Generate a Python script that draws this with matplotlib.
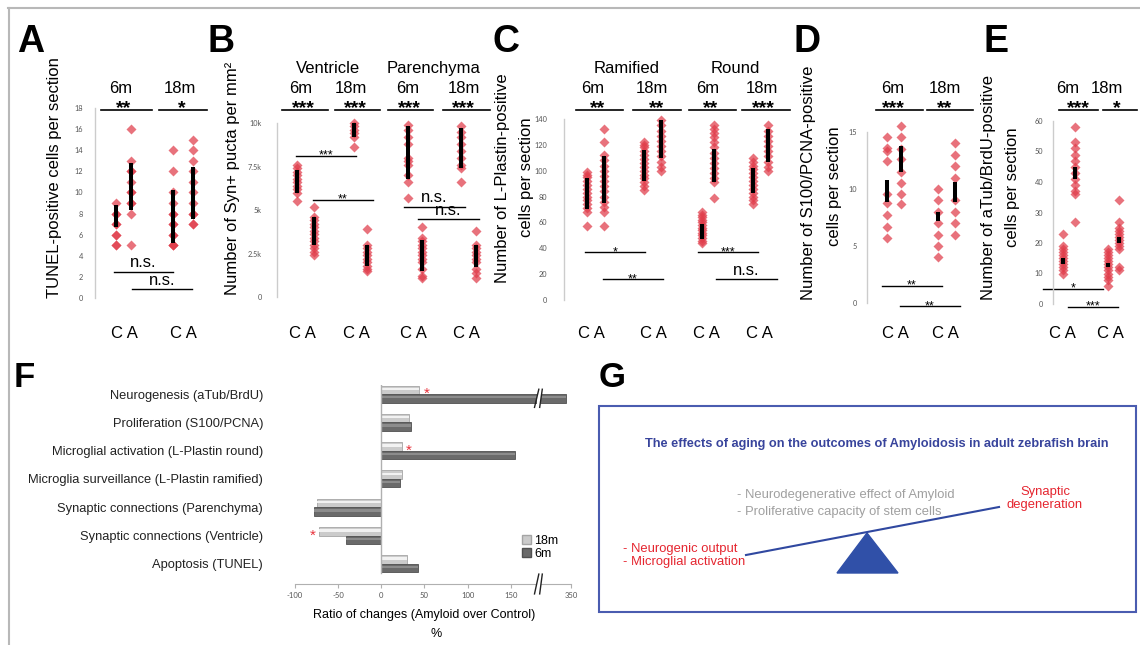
import numpy as np
import matplotlib
matplotlib.use("Agg")
import matplotlib.pyplot as plt
from matplotlib.patches import Rectangle, Polygon, Patch

plt.rcParams['font.family'] = ['Liberation Sans', 'DejaVu Sans']

W, H = 1140, 645
RED = '#e03c4a'

# ---------------- data ----------------
# A - TUNEL-positive cells per section
tunel_6m_C = [9, 8, 8, 7, 7, 6, 6, 5, 5]
tunel_6m_A = [16, 13, 12, 12, 11, 10, 10, 9, 9, 8, 5]
tunel_18m_C = [14, 12, 10, 9, 8, 8, 7, 7, 6, 6, 5, 5, 5]
tunel_18m_A = [15, 14, 13, 12, 11, 10, 9, 8, 8, 7, 7]
tunel_bars = [(6.7, 8.8), (8.3, 12.8), (5.2, 10.2), (7.5, 12.4)]

# B - Syn+ puncta per mm2 (ventricle 6m C/A, 18m C/A, parenchyma 6m C/A, 18m C/A)
syn_v6_C = [7600, 7400, 7200, 7000, 6800, 6600, 6400, 6200, 6000, 5500]
syn_v6_A = [5200, 4600, 4400, 4200, 4000, 3800, 3600, 3400, 3200, 3000, 2800, 2600, 2400]
syn_v18_C = [10000, 9800, 9600, 9400, 9200, 8600]
syn_v18_A = [3900, 3000, 2800, 2600, 2400, 2200, 2000, 1800, 1600, 1500]
syn_p6_C = [9900, 9600, 9200, 8800, 8000, 7800, 7600, 7000, 6600, 5700]
syn_p6_A = [4000, 3400, 3200, 3000, 2800, 2600, 2400, 2200, 2000, 1600, 1200, 1100]
syn_p18_C = [9800, 9500, 9200, 8800, 8400, 8000, 7600, 7400, 6600]
syn_p18_A = [3800, 3000, 2800, 2600, 2400, 2200, 2000, 1600, 1400, 1100]
syn_bars = [(6000, 7300), (3000, 4600), (9200, 10000), (1800, 3000),
            (6800, 9800), (1500, 3300), (7400, 9700), (1700, 3000)]

# C - L-Plastin-positive cells per section (ramified / round)
lp_r6_C = [99, 97, 95, 92, 89, 86, 83, 80, 77, 74, 71, 68, 57]
lp_r6_A = [132, 122, 112, 108, 104, 100, 96, 92, 88, 84, 80, 76, 72, 68, 57]
lp_r18_C = [122, 120, 118, 115, 112, 109, 106, 103, 100, 97, 94, 91, 88, 85]
lp_r18_A = [139, 135, 131, 127, 123, 119, 115, 111, 107, 103, 100]
lp_o6_C = [68, 66, 64, 62, 60, 58, 56, 54, 52, 50, 48, 46, 44]
lp_o6_A = [135, 132, 129, 126, 122, 118, 114, 110, 106, 102, 98, 94, 91, 79]
lp_o18_C = [110, 107, 104, 101, 98, 95, 92, 89, 86, 83, 80, 77, 74]
lp_o18_A = [135, 131, 127, 123, 119, 115, 111, 107, 103, 100]
lp_bars = [(70, 94), (75, 111), (92, 116), (110, 139),
           (47, 59), (91, 117), (83, 102), (107, 132)]

# D - S100/PCNA-positive cells per section
pcna_6m_C = [14.6, 13.6, 13.3, 12.5, 9.6, 8.8, 7.7, 6.7, 5.7]
pcna_6m_A = [15.5, 14.6, 13.5, 12.6, 11.5, 10.5, 9.6, 8.7]
pcna_18m_C = [10, 9, 8, 7, 6, 5, 4]
pcna_18m_A = [14, 13, 12, 11, 9, 8, 7, 6]
pcna_bars = [(8.9, 10.8), (11.5, 13.8), (7.2, 8.0), (8.9, 10.6)]

# E - aTub/BrdU-positive cells per section
brdu_6m_C = [23, 19, 18, 17, 16, 15, 14, 13, 12, 11, 10]
brdu_6m_A = [58, 53, 51, 49, 47, 45, 43, 41, 39, 37, 36, 27]
brdu_18m_C = [18, 17, 16, 15, 14, 13, 12, 11, 10, 9, 8, 6]
brdu_18m_A = [34, 27, 25, 24, 23, 22, 21, 20, 19, 18, 12, 11]
brdu_bars = [(13, 15), (41, 45), (12, 13.5), (20, 22)]

# F - ratio of changes (Amyloid over Control), %
f_categories = ['Neurogenesis (aTub/BrdU)', 'Proliferation (S100/PCNA)',
                'Microglial activation (L-Plastin round)',
                'Microglia surveillance (L-Plastin ramified)',
                'Synaptic connections (Parenchyma)',
                'Synaptic connections (Ventricle)', 'Apoptosis (TUNEL)']
f_18m = [44, 32, 24, 24, -74, -72, 30]
f_6m = [320, 34, 155, 22, -78, -41, 42]
f_star_18m = [True, False, True, False, False, True, False]
f_ticks = [-100, -50, 0, 50, 100, 150, 350]

# ---------------- figure ----------------
fig = plt.figure(figsize=(W / 100, H / 100), dpi=100)
ax0 = fig.add_axes([0, 0, 1, 1])
ax0.set_xlim(0, W)
ax0.set_ylim(H, 0)
ax0.axis('off')


def T(x, y, s, size=12, ha='center', va='baseline', **kw):
    ax0.text(x, y, s, fontsize=size, ha=ha, va=va, **kw)


def hline(x0, x1, y, lw=1.2):
    ax0.plot([x0, x1], [y, y], color='black', lw=lw)


def strip_axes(x0, x1, ytop, ybot, ylim, ticks, labels, pad):
    ax = fig.add_axes([x0 / W, 1 - ybot / H, (x1 - x0) / W, (ybot - ytop) / H])
    ax.patch.set_visible(False)
    ax.set_xlim(x0, x1)
    ax.set_ylim(*ylim)
    for s in ['top', 'right', 'bottom']:
        ax.spines[s].set_visible(False)
    ax.spines['left'].set_color('#cccccc')
    ax.spines['left'].set_linewidth(1)
    ax.set_xticks([])
    ax.set_yticks(ticks)
    ax.set_yticklabels(labels, fontsize=5.3, color='#555555', family='Lato')
    ax.tick_params(axis='y', length=0, pad=pad * 0.72)
    return ax


def strip(ax, xpos, groups, bars):
    for x, vals, (lo, hi) in zip(xpos, groups, bars):
        ax.plot(np.full(len(vals), x), vals, ls='none', marker='D', ms=5,
                color=RED, alpha=0.72, mec='none', clip_on=False)
        ax.plot([x, x], [lo, hi], color='black', lw=2.9,
                solid_capstyle='butt', zorder=3)


def bracket(ax, x0, x1, yv, label):
    ax.plot([x0, x1], [yv, yv], color='black', lw=1, clip_on=False)
    if label == 'n.s.':
        size, dy = 12, 3
    else:
        size, dy = 9, -2
    ax.annotate(label, xy=((x0 + x1) / 2, yv), xytext=(0, dy),
                textcoords='offset points', ha='center', va='baseline',
                fontsize=size, annotation_clip=False)


# frame of the figure
ax0.plot([8.5, 8.5], [8, H], color='#b8b8b8', lw=1.5)
ax0.plot([8, W], [8, 8], color='#b8b8b8', lw=1.5)

# ---- A ----
T(17, 52, 'A', size=27, ha='left', weight='bold')
axA = strip_axes(95, 210, 108, 298, (0, 18), range(0, 19, 2),
                 [str(v) for v in range(0, 19, 2)], 12)
strip(axA, [116, 131, 173, 193],
      [tunel_6m_C, tunel_6m_A, tunel_18m_C, tunel_18m_A], tunel_bars)
bracket(axA, 114, 173, 2.5, 'n.s.')
bracket(axA, 132, 192, 0.85, 'n.s.')
T(55, 178, 'TUNEL-positive cells per section', rotation=90, va='center')
for x, s in [(121, '6m'), (180, '18m')]:
    T(x, 93, s)
for x, s in [(124, '**'), (182, '*')]:
    T(x, 113, s, size=14, weight='bold')
hline(101, 152, 110)
hline(159, 207, 110)
for x in [124, 183]:
    T(x, 338, 'C A')

# ---- B ----
T(207, 52, 'B', size=27, ha='left', weight='bold')
axB = strip_axes(277, 492, 123, 297, (0, 10000), [0, 2500, 5000, 7500, 10000],
                 ['0', '2.5k', '5k', '7.5k', '10k'], 15)
strip(axB, [297, 314, 354, 367, 408, 422, 461, 476],
      [syn_v6_C, syn_v6_A, syn_v18_C, syn_v18_A,
       syn_p6_C, syn_p6_A, syn_p18_C, syn_p18_A], syn_bars)
bracket(axB, 296, 356, 8100, '***')
bracket(axB, 313, 373, 5600, '**')
bracket(axB, 404, 465, 5200, 'n.s.')
bracket(axB, 418, 479, 4500, 'n.s.')
T(233, 178, 'Number of Syn+ pucta per mm\u00b2', rotation=90, va='center')
T(328, 73, 'Ventricle')
T(434, 73, 'Parenchyma')
for x, s in [(301, '6m'), (351, '18m'), (408, '6m'), (464, '18m')]:
    T(x, 93, s)
for x in [303, 355, 409, 463]:
    T(x, 113, '***', size=14, weight='bold')
for a, b in [(282, 328), (335, 380), (388, 433), (443, 490)]:
    hline(a, b, 110)
for x in [302, 356, 413, 466]:
    T(x, 338, 'C A')

# ---- C ----
T(493, 52, 'C', size=27, ha='left', weight='bold')
axC = strip_axes(564, 795, 119, 300, (0, 140), range(0, 141, 20),
                 [str(v) for v in range(0, 141, 20)], 17)
strip(axC, [587, 604, 644, 661, 702, 714, 753, 768],
      [lp_r6_C, lp_r6_A, lp_r18_C, lp_r18_A,
       lp_o6_C, lp_o6_A, lp_o18_C, lp_o18_A], lp_bars)
bracket(axC, 585, 645, 37, '*')
bracket(axC, 603, 663, 16, '**')
bracket(axC, 698, 758, 37, '***')
bracket(axC, 716, 777, 16, 'n.s.')
T(502, 178, 'Number of L-Plastin-positive', rotation=90, va='center')
T(527, 177, 'cells per section', rotation=90, va='center')
T(627, 73, 'Ramified')
T(735, 73, 'Round')
for x, s in [(593, '6m'), (652, '18m'), (708, '6m'), (762, '18m')]:
    T(x, 93, s)
for x, s in [(598, '**'), (657, '**'), (711, '**'), (763, '***')]:
    T(x, 113, s, size=14, weight='bold')
for a, b in [(576, 623), (633, 681), (689, 736), (742, 790)]:
    hline(a, b, 110)
for x in [591, 653, 706, 759]:
    T(x, 338, 'C A')

# ---- D ----
T(793, 52, 'D', size=27, ha='left', weight='bold')
axD = strip_axes(867, 980, 132, 303, (0, 15), [0, 5, 10, 15],
                 ['0', '5', '10', '15'], 10)
strip(axD, [887, 901, 938, 955],
      [pcna_6m_C, pcna_6m_A, pcna_18m_C, pcna_18m_A], pcna_bars)
bracket(axD, 882, 942, 1.5, '**')
bracket(axD, 900, 960, -0.3, '**')
T(808, 183, 'Number of S100/PCNA-positive', rotation=90, va='center')
T(835, 186, 'cells per section', rotation=90, va='center')
for x, s in [(893, '6m'), (945, '18m')]:
    T(x, 93, s)
for x, s in [(893, '***'), (945, '**')]:
    T(x, 113, s, size=14, weight='bold')
hline(876, 923, 110)
hline(927, 973, 110)
for x in [895, 945]:
    T(x, 338, 'C A')

# ---- E ----
T(983, 52, 'E', size=27, ha='left', weight='bold')
axE = strip_axes(1053, 1138, 121, 304, (0, 60), range(0, 61, 10),
                 [str(v) for v in range(0, 61, 10)], 10)
strip(axE, [1063, 1075, 1108, 1119],
      [brdu_6m_C, brdu_6m_A, brdu_18m_C, brdu_18m_A], brdu_bars)
bracket(axE, 1043, 1103, 5, '*')
bracket(axE, 1068, 1118, -1, '***')
T(988, 187, 'Number of aTub/BrdU-positive', rotation=90, va='center')
T(1012, 187, 'cells per section', rotation=90, va='center')
for x, s in [(1068, '6m'), (1107, '18m')]:
    T(x, 93, s)
for x, s in [(1078, '***'), (1117, '*')]:
    T(x, 113, s, size=14, weight='bold')
hline(1059, 1098, 110)
hline(1103, 1137, 110)
for x in [1062, 1110]:
    T(x, 338, 'C A')

# ---- F ----
T(14, 387, 'F', size=25, ha='left', weight='bold')
BRK, K = 186.0, 0.206


def fwd(v):
    v = np.asarray(v, dtype=float)
    return np.where(v <= BRK, v, BRK + (v - BRK) * K)


def inv(u):
    u = np.asarray(u, dtype=float)
    return np.where(u <= BRK, u, BRK + (u - BRK) / K)


axF = fig.add_axes([295 / W, 1 - 584 / H, (571 - 295) / W, (584 - 385) / H])
axF.patch.set_visible(False)
axF.set_xscale('function', functions=(fwd, inv))
axF.set_xlim(-100, 350)
axF.set_ylim(6.71, -0.32)
idx = np.arange(len(f_categories))
bh = 0.3
axF.barh(idx - bh / 2, f_18m, height=bh, color='#cbcbcb', edgecolor='#a5a5a5',
         lw=0.6, label='18m', zorder=2)
axF.barh(idx + bh / 2, f_6m, height=bh, color='#6a6a6a', edgecolor='#505050',
         lw=0.6, label='6m', zorder=2)
# light sheen through the bars (shaded bar look)
axF.barh(idx - bh / 2 - bh * 0.12, f_18m, height=bh * 0.28, color='#f2f2f2', lw=0, zorder=2.5)
axF.barh(idx + bh / 2 - bh * 0.12, f_6m, height=bh * 0.28, color='#8c8c8c', lw=0, zorder=2.5)
axF.plot([0, 0], [-0.32, 6.32], color='#b0b0b0', lw=1, zorder=3)
for i, (v, star) in enumerate(zip(f_18m, f_star_18m)):
    if star:
        dx = 5 if v > 0 else -5
        axF.annotate('*', xy=(v, i - bh / 2), xytext=(dx, -6), textcoords='offset points',
                     ha='center', va='baseline', fontsize=11, color='#e8303a')
# axis break marks (bar and axis)
for yc, half in [(0 + bh / 2, 0.32), (6.71, 0.35)]:
    axF.fill_between([180.5, 185.5], yc - half * 0.6, yc + half * 0.6, color='white',
                     zorder=4, clip_on=False, lw=0)
    for xb in [180, 186]:
        axF.plot([xb - 2.5, xb + 2.5], [yc + half, yc - half], color='#222222',
                 lw=1, zorder=5, clip_on=False)
for s in ['top', 'right', 'left']:
    axF.spines[s].set_visible(False)
axF.spines['bottom'].set_color('#b0b0b0')
axF.set_xticks(f_ticks)
axF.set_xticklabels([str(t) for t in f_ticks], fontsize=5.5, color='#555555', family='Lato')
axF.tick_params(axis='x', length=3, color='#b0b0b0', pad=3)
axF.set_yticks(idx)
axF.set_yticklabels(f_categories, fontsize=9.3, color='#222222')
axF.tick_params(axis='y', length=0, pad=23)
axF.legend(handles=[Patch(fc='#cbcbcb', ec='#a5a5a5', label='18m'),
                    Patch(fc='#6a6a6a', ec='#505050', label='6m')],
           loc='upper left', bbox_to_anchor=(522 / W, 1 - 535 / H),
           bbox_transform=fig.transFigure, frameon=False, fontsize=9,
           handlelength=0.7, handleheight=0.7, handletextpad=0.3,
           labelspacing=0.05, borderpad=0, borderaxespad=0)
T(424, 618, 'Ratio of changes (Amyloid over Control)', size=9)
T(436, 637, '%', size=9)

# ---- G ----
T(599, 387, 'G', size=25, ha='left', weight='bold')
ax0.add_patch(Rectangle((599, 406), 537, 206, fill=False, ec='#4a5cb0', lw=1.5))
T(877, 444, 'The effects of aging on the outcomes of Amyloidosis in adult zebrafish brain',
  size=9.2, va='center', weight='bold', color='#38449c')
T(737, 495, '- Neurodegenerative effect of Amyloid', size=9.4, ha='left', va='center',
  color='#a0a0a0')
T(737, 512, '- Proliferative capacity of stem cells', size=9.4, ha='left', va='center',
  color='#a0a0a0')
T(1045, 492, 'Synaptic', size=9.4, va='center', color='#e5252f')
T(1045, 505, 'degeneration', size=9.4, va='center', color='#e5252f')
T(623, 549, '- Neurogenic output', size=9.4, ha='left', va='center', color='#e5252f')
T(623, 562, '- Microglial activation', size=9.4, ha='left', va='center', color='#e5252f')
ax0.plot([746, 999], [555, 507], color='#3048a0', lw=1.5)
ax0.add_patch(Polygon([(867, 533), (837, 573), (898, 573)], closed=True,
                      fc='#3050a8', ec='#3050a8'))

fig.savefig('out.png', dpi=100)
